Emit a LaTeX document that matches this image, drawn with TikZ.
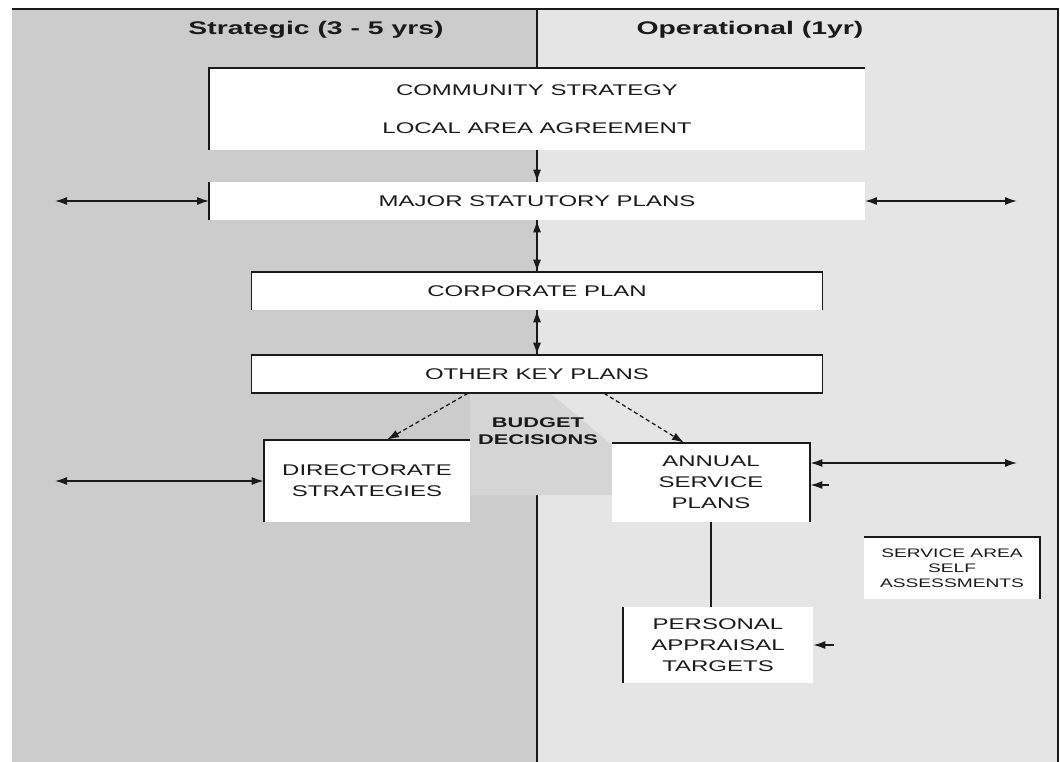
\documentclass[tikz,border=0pt]{standalone}
\usepackage{fontspec}
\setmainfont{Liberation Sans}[FakeStretch=1.55]
\usetikzlibrary{arrows.meta,positioning}
\definecolor{ink}{HTML}{1A1A1A}
\definecolor{strat}{HTML}{CCCCCC}
\definecolor{oper}{HTML}{E5E5E5}
\definecolor{budgetfill}{HTML}{D5D5D5}

\begin{document}
\begin{tikzpicture}[
  x=0.025cm,
  y=-0.025cm,
  >={Latex[length=3mm,width=2mm]},
  head/.style={font=\bfseries\fontsize{13}{15}\selectfont, text=ink},
  sheet/.style={fill=white, inner sep=0pt, align=center, text=ink,
                font=\fontsize{11}{15}\selectfont},
  small/.style={font=\fontsize{8.8}{10.7}\selectfont},
  rim/.style={line width=1.2pt, color=ink},
  link/.style={<->, line width=1.1pt, color=ink},
  flow/.style={->, line width=1.1pt, color=ink},
  feed/.style={->, line width=0.9pt, densely dashed, color=ink},
]
\useasboundingbox (0,0) rectangle (1060,762);

% the two time bands
\fill[white] (0,0) rectangle (1060,762);
\fill[strat] (12,9) rectangle (537,762);
\fill[oper] (537,9) rectangle (1058,762);
\draw[rim] (12,9) -- (1058,9) -- (1058,762);
\draw[rim] (537,9) -- (537,762);

\node[head] (strategic) at (316,30) {Strategic (3 - 5 yrs)};
\node[head] (operational) at (750,30) {Operational (1yr)};

\fill[budgetfill] (470,393) -- (550,393) -- (612,445) -- (612,495) -- (470,495) -- cycle;
\node[font=\bfseries\fontsize{10}{12}\selectfont, text=ink, align=center] (budget) at (538,431) {BUDGET\\DECISIONS};

% plans, top to bottom
\node[sheet, minimum width=16.375cm, minimum height=2.05cm] (community) at (537,109)
  {COMMUNITY STRATEGY\\[12pt]LOCAL AREA AGREEMENT};
\node[sheet, minimum width=16.375cm, minimum height=0.95cm] (major) at (537,201) {MAJOR STATUTORY PLANS};
\node[sheet, minimum width=14.25cm, minimum height=0.95cm] (corporate) at (537,291) {CORPORATE PLAN};
\node[sheet, minimum width=14.25cm, minimum height=0.95cm] (otherkey) at (537,374) {OTHER KEY PLANS};
\node[sheet, minimum width=5.15cm, minimum height=2.05cm] (directorate) at (367,481) {DIRECTORATE\\STRATEGIES};
\node[sheet, minimum width=4.95cm, minimum height=1.975cm] (annual) at (711,482.5) {ANNUAL\\SERVICE\\PLANS};
\node[sheet, minimum width=4.75cm, minimum height=1.9cm] (personal) at (718,645) {PERSONAL\\APPRAISAL\\TARGETS};
\node[sheet, small, minimum width=4.4cm, minimum height=1.525cm] (service) at (952,568) {SERVICE AREA\\SELF\\ASSESSMENTS};

% box edges as printed
\draw[rim] (community.south west) -- (community.north west) -- (community.north east);
\draw[rim] (major.south west) -- (major.north west);
\draw[rim] (corporate.south west) -- (corporate.north west) -- (corporate.north east) -- (corporate.south east);
\draw[rim] (otherkey.south west) rectangle (otherkey.north east);
\draw[rim] (directorate.south west) -- (directorate.north west) -- (directorate.north east);
\draw[rim] (annual.north west) -- (annual.north east) -- (annual.south east);
\draw[rim] (personal.south west) -- (personal.north west);
\draw[rim] (service.north west) -- (service.north east) -- (service.south east);

% links
\draw[flow] (community) -- (major);
\draw[link] (major) -- (corporate);
\draw[link] (corporate) -- (otherkey);
\draw[feed] (otherkey.south -| 468,0) -- (directorate.north -| 387,0);
\draw[feed] (otherkey.south -| 604,0) -- (annual.north -| 684,0);
\draw[rim] (annual.south) -- (annual.south |- personal.north);

\coordinate (farnw) at (55,201);
\coordinate (farne) at (1017,201);
\coordinate (farsw) at (55,481);
\coordinate (farse) at (1017,463);
\coordinate (stubannual) at (829,485);
\coordinate (stubpersonal) at (834,645);
\draw[link] (farnw) -- (major.west);
\draw[link] (major.east) -- (farne);
\draw[link] (farsw) -- (directorate.west);
\draw[link] (annual.east |- farse) -- (farse);
\draw[flow] (stubannual) -- (annual.east |- stubannual);
\draw[flow] (stubpersonal) -- (personal.east |- stubpersonal);

\end{tikzpicture}
\end{document}
